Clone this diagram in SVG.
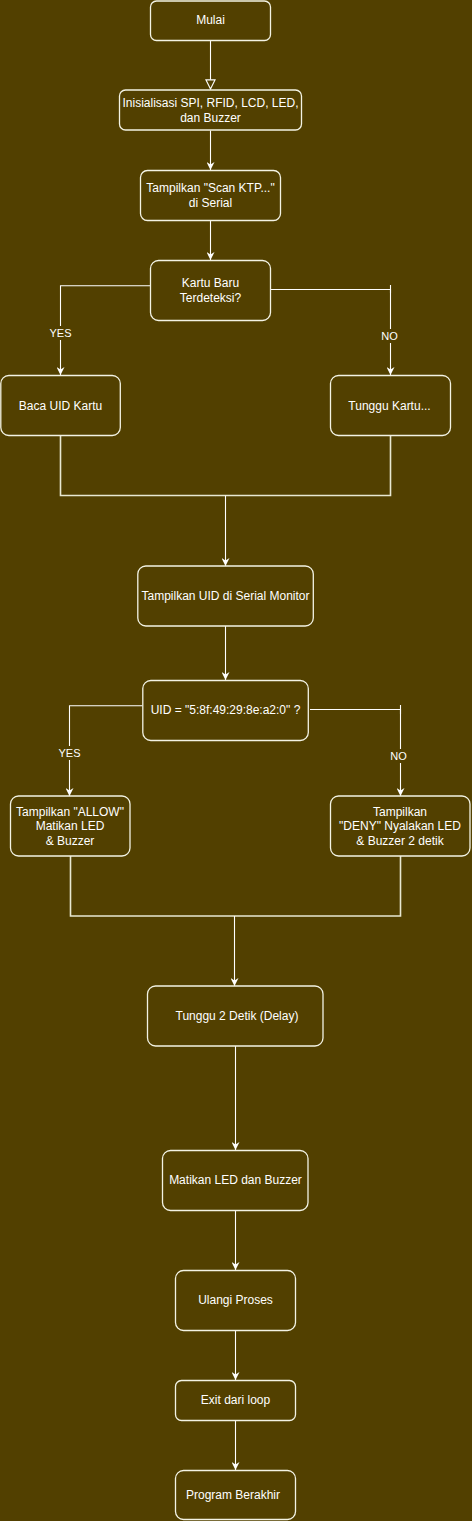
<svg xmlns="http://www.w3.org/2000/svg" width="472" height="1521" viewBox="0 0 472 1521">
<style>
.n rect{fill:#524000;stroke:#f3f3e4;stroke-width:1.3}
text{font-family:"Liberation Sans",Arial,sans-serif;font-size:12px;fill:#ffffff;text-anchor:middle}
.lbl{font-size:11px}
.c{fill:none;stroke:#ffffff;stroke-width:1.1}
.m{fill:none;stroke:#e8e8d2;stroke-width:1.6}
.lb{fill:#524000;stroke:none}
</style>
<defs>
<marker id="ar" viewBox="0 0 10 10" refX="10" refY="5" markerWidth="8" markerHeight="8" markerUnits="userSpaceOnUse" orient="auto">
<path d="M0,0 L10,5 L0,10 L3,5 Z" fill="#ffffff"/>
</marker>
<marker id="op" viewBox="0 0 12 12" refX="11" refY="6" markerWidth="11" markerHeight="11" markerUnits="userSpaceOnUse" orient="auto">
<path d="M1,1 L11,6 L1,11 Z" fill="#524000" stroke="#ffffff" stroke-width="1.2"/>
</marker>
</defs>
<rect x="0" y="0" width="472" height="1521" fill="#524000"/>
<g id="connectors">
<path class="c" d="M210.5,40.5 V89" marker-end="url(#op)"/>
<path class="c" d="M210.5,130.5 V170" marker-end="url(#ar)"/>
<path class="c" d="M210.5,220.5 V260" marker-end="url(#ar)"/>
<path class="c" d="M150.5,285.7 H60.5 V375" marker-end="url(#ar)"/>
<path class="c" d="M270.5,289.5 H390.5 V375" marker-end="url(#ar)"/>
<path class="c" d="M390.5,285 V293"/>
<path class="m" d="M60.5,435.5 V495.5 H390.5 V435.5"/>
<path class="c" d="M225.5,495.5 V566" marker-end="url(#ar)"/>
<path class="c" d="M225.5,626 V680" marker-end="url(#ar)"/>
<path class="c" d="M142.5,705.7 H69.5 V796" marker-end="url(#ar)"/>
<path class="c" d="M310,709.5 H400.5 V796" marker-end="url(#ar)"/>
<path class="c" d="M400.5,705 V714"/>
<path class="m" d="M70.5,856 V916 H400.5 V856"/>
<path class="c" d="M234.5,916 V986" marker-end="url(#ar)"/>
<path class="c" d="M235.5,1046 V1150" marker-end="url(#ar)"/>
<path class="c" d="M235.5,1210 V1270" marker-end="url(#ar)"/>
<path class="c" d="M235.5,1330 V1380" marker-end="url(#ar)"/>
<path class="c" d="M235.5,1420 V1470" marker-end="url(#ar)"/>
<rect class="lb" x="47" y="326" width="27" height="14"/>
<text class="lbl" x="60.5" y="336.7">YES</text>
<rect class="lb" x="378" y="329" width="25" height="14"/>
<text class="lbl" x="389.5" y="340">NO</text>
<rect class="lb" x="56" y="746" width="27" height="14"/>
<text class="lbl" x="69.5" y="756.7">YES</text>
<rect class="lb" x="387" y="749" width="25" height="14"/>
<text class="lbl" x="398.5" y="760">NO</text>
</g>
<g id="mulai" class="n"><rect x="150.5" y="1" width="120" height="39.5" rx="6"/><text x="210.5" y="24">Mulai</text></g>
<g id="init" class="n"><rect x="119.5" y="90" width="182" height="40" rx="6"/><text x="210.5" y="107">Inisialisasi SPI, RFID, LCD, LED,</text><text x="210.5" y="122">dan Buzzer</text></g>
<g id="scan" class="n"><rect x="140.5" y="170.5" width="140" height="50" rx="7"/><text x="210.5" y="192">Tampilkan "Scan KTP..."</text><text x="210.5" y="207">di Serial</text></g>
<g id="kartu-baru" class="n"><rect x="150.5" y="260.5" width="120" height="60" rx="8"/><text x="210.5" y="287">Kartu Baru</text><text x="210.5" y="301.5">Terdeteksi?</text></g>
<g id="baca-uid" class="n"><rect x="0.8" y="375.5" width="119.5" height="60" rx="8"/><text x="60.5" y="410">Baca UID Kartu</text></g>
<g id="tunggu-kartu" class="n"><rect x="330.5" y="375.5" width="120" height="60" rx="8"/><text x="389.5" y="410">Tunggu Kartu...</text></g>
<g id="tampil-uid" class="n"><rect x="137.8" y="566" width="175.5" height="60" rx="8"/><text x="225.5" y="599.5">Tampilkan UID di Serial Monitor</text></g>
<g id="uid-cek" class="n"><rect x="142.8" y="680.5" width="165.5" height="60" rx="8"/><text x="225.5" y="713.5">UID = "5:8f:49:29:8e:a2:0" ?</text></g>
<g id="allow" class="n"><rect x="10.5" y="796" width="119.5" height="60" rx="8"/><text x="70" y="815.5">Tampilkan "ALLOW"</text><text x="70" y="830">Matikan LED</text><text x="70" y="844.5">&amp; Buzzer</text></g>
<g id="deny" class="n"><rect x="330.5" y="796" width="139.5" height="60" rx="8"/><text x="400" y="815.5">Tampilkan</text><text x="400" y="830">"DENY" Nyalakan LED</text><text x="400" y="844.5">&amp; Buzzer 2 detik</text></g>
<g id="delay" class="n"><rect x="147.5" y="986" width="175.5" height="60" rx="8"/><text x="237" y="1020">Tunggu 2 Detik (Delay)</text></g>
<g id="matikan" class="n"><rect x="162.5" y="1150.5" width="145.5" height="60" rx="8"/><text x="235.5" y="1183.5">Matikan LED dan Buzzer</text></g>
<g id="ulangi" class="n"><rect x="175.5" y="1270.5" width="120" height="60" rx="8"/><text x="235.5" y="1304">Ulangi Proses</text></g>
<g id="exit" class="n"><rect x="175.5" y="1380.5" width="120" height="40" rx="6"/><text x="235.5" y="1404">Exit dari loop</text></g>
<g id="berakhir" class="n"><rect x="175.5" y="1470.5" width="120" height="49" rx="8"/><text x="233" y="1499">Program Berakhir</text></g>
</svg>
